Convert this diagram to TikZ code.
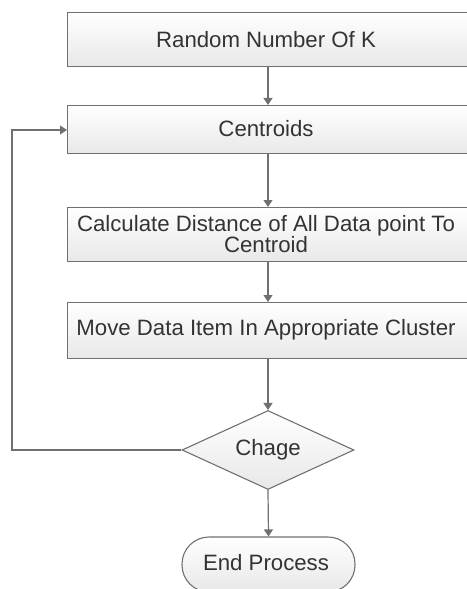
\documentclass[tikz,border=0pt]{standalone}
\usepackage{fontspec}
\setmainfont{Liberation Sans}
\usetikzlibrary{arrows.meta,shapes.geometric}
\definecolor{edge}{HTML}{707070}
\definecolor{ink}{HTML}{333333}
\tikzset{
  flowbox/.style={draw=edge, line width=1.1bp, top color=white, bottom color=black!9,
    inner sep=0pt},
  flowtext/.style={text=ink, font=\fontsize{22.3}{21}\selectfont, align=center, inner sep=0pt},
  flowarrow/.style={draw=edge, line width=1.2bp, -{Triangle[width=9bp,length=7bp]}},
}
\begin{document}
\begin{tikzpicture}[x=1bp,y=-1bp]
  \useasboundingbox (0,0) rectangle (467,589);
  \begin{scope}
    \clip (0,0) rectangle (467,589);
    % process boxes (the right side runs past the edge of the page)
    \node[flowbox, minimum width=404bp, minimum height=54bp, anchor=north west] (k) at (67,12) {};
    \node[flowbox, minimum width=404bp, minimum height=48bp, anchor=north west] (c) at (67,105) {};
    \node[flowbox, minimum width=404bp, minimum height=54bp, anchor=north west] (d) at (67,207) {};
    \node[flowbox, minimum width=404bp, minimum height=56bp, anchor=north west] (m) at (67,302) {};
    % decision
    \node[flowbox, diamond, minimum width=172bp, minimum height=79bp, aspect=2.18] (ch) at (268,450) {};
    % terminal
    \node[flowbox, rounded corners=27bp, minimum width=173bp, minimum height=55bp] (e) at (268.5,564.5) {};
    % labels
    \node[flowtext] (tk) at (266,40) {Random Number Of K};
    \node[flowtext] (tc) at (266,129) {Centroids};
    \node[flowtext] (td) at (266,234.5) {Calculate Distance of All Data point To\\Centroid};
    \node[flowtext] (tm) at (266,330) {Move Data Item In Appropriate Cluster};
    \node[flowtext] (tch) at (268,450) {Chage};
    \node[flowtext] (te) at (266,563) {End Process};
    % connectors
    \coordinate (k0) at (268,66);
    \coordinate (c0) at (268,105);
    \coordinate (c1) at (268,153);
    \coordinate (d0) at (268,207);
    \coordinate (d1) at (268,261);
    \coordinate (m0) at (268,302);
    \coordinate (m1) at (268,358);
    \coordinate (cl) at (67,130);
    \draw[flowarrow] (k0) -- (c0);
    \draw[flowarrow] (c1) -- (d0);
    \draw[flowarrow] (d1) -- (m0);
    \draw[flowarrow] (m1) -- (ch.north);
    \draw[flowarrow] (ch.south) -- (e.north);
    \draw[flowarrow] (ch.west) -- (12,450) -- (12,130) -- (cl);
  \end{scope}
\end{tikzpicture}
\end{document}
